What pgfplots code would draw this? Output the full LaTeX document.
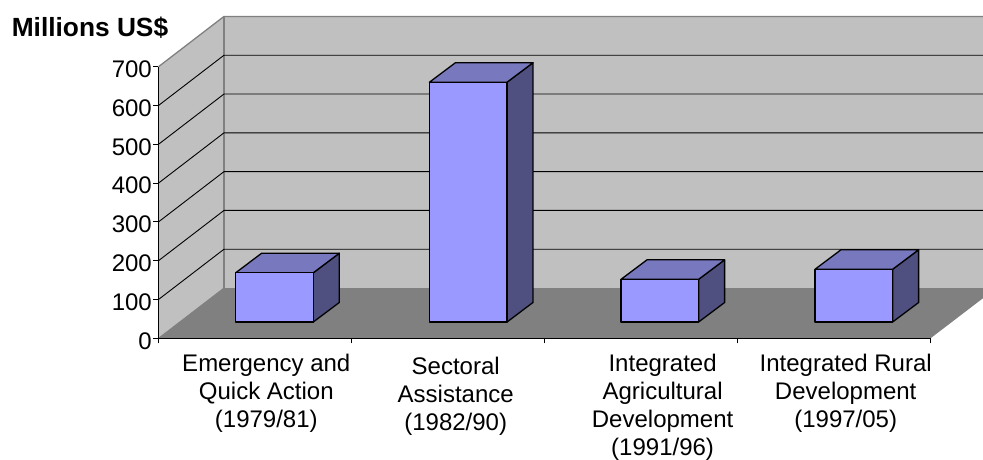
\documentclass[border=0pt]{standalone}
\usepackage{pgfplots}
\pgfplotsset{compat=1.18}
\usepackage{fontspec}
\setmainfont{Liberation Sans}
\definecolor{wall}{HTML}{C0C0C0}
\definecolor{floorc}{HTML}{808080}
\definecolor{barfront}{HTML}{9999FF}
\definecolor{bartop}{HTML}{7878BF}
\definecolor{barside}{HTML}{4F4F80}
\begin{document}
\begin{tikzpicture}[x=1pt,y=1pt]
\path[use as bounding box] (0,0) rectangle (983,459);
\begin{axis}[
  at={(158.5pt,120.7pt)}, anchor=south west,
  scale only axis, width=772pt, height=271.6pt,
  xmin=0, xmax=4, ymin=0, ymax=700,
  clip=false, axis on top=true,
  axis x line=bottom, axis y line=left,
  axis line style={-, black, line width=0.9pt},
  unbounded coords=jump,
  ytick={0,100,...,700},
  xtick={0.5585,1.5399,2.612,3.5606},
  xticklabels={
    {Emergency and\\Quick Action\\(1979/81)},
    {\rule{0pt}{20.5pt}Sectoral\\Assistance\\(1982/90)},
    {Integrated\\Agricultural\\Development\\(1991/96)},
    {Integrated Rural\\Development\\(1997/05)}},
  minor xtick={0,1,2,3,4},
  major x tick style={draw=none},
  minor x tick style={black, line width=0.9pt},
  y tick style={black, line width=0.9pt},
  tick align=outside,
  major tick length=5pt, minor tick length=5pt,
  /pgf/number format/assume math mode=true,
  tick label style={font=\fontsize{24}{28}\selectfont},
  x tick label style={align=center, anchor=north, yshift=-7pt},
  y tick label style={inner sep=1pt, xshift=-0.5pt, yshift=-2.5pt},
  ylabel={\textbf{Millions US\$}},
  every axis y label/.style={at={(axis cs:-0.355,800)}, anchor=center, font=\fontsize{26.3}{30}\selectfont},
]
% walls and floor
\addplot[draw=none, fill=wall] coordinates {(0.3394,129.6) (4.272,129.6) (4.272,829.6) (0.3394,829.6)} -- cycle;
\addplot[draw=none, fill=wall] coordinates {(0,0) (0.3394,129.6) (0.3394,829.6) (0,700)} -- cycle;
\addplot[draw=none, fill=floorc] coordinates {(0,0) (4,0) (4.272,103.3) (4.272,129.6) (0.3394,129.6)} -- cycle;
% wall edges
\addplot[floorc, line width=1.3pt] coordinates {(0,700) (0.3394,829.6) (4.272,829.6)};
\addplot[floorc, line width=1.3pt] coordinates {(0.3394,829.6) (0.3394,129.6)};
\addplot[floorc, line width=0.9pt] coordinates {(0,0) (0.3394,129.6)};
% grid lines
\addplot[black, line width=0.9pt] coordinates {
 (0,100) (0.3394,229.6) (4.272,229.6) (4.272,nan)
 (0,200) (0.3394,329.6) (4.272,329.6) (4.272,nan)
 (0,300) (0.3394,429.6) (4.272,429.6) (4.272,nan)
 (0,400) (0.3394,529.6) (4.272,529.6) (4.272,nan)
 (0,500) (0.3394,629.6) (4.272,629.6) (4.272,nan)
 (0,600) (0.3394,729.6) (4.272,729.6)};
% bars
\pgfplotsset{
  barf/.style={draw=black, line width=1.3pt, line join=round, fill=barfront},
  bart/.style={draw=black, line width=1.3pt, line join=round, fill=bartop},
  bars/.style={draw=black, line width=1.3pt, line join=round, fill=barside}}
\addplot[bars] coordinates {(0.8021,42) (0.9368,92.3) (0.9368,219.3) (0.8021,169)} -- cycle;
\addplot[bart] coordinates {(0.4,169) (0.8021,169) (0.9368,219.3) (0.5347,219.3)} -- cycle;
\addplot[barf] coordinates {(0.4,42) (0.8021,42) (0.8021,169) (0.4,169)} -- cycle;
\addplot[bars] coordinates {(1.8057,42) (1.9404,92.3) (1.9404,710.3) (1.8057,660)} -- cycle;
\addplot[bart] coordinates {(1.4036,660) (1.8057,660) (1.9404,710.3) (1.5383,710.3)} -- cycle;
\addplot[barf] coordinates {(1.4036,42) (1.8057,42) (1.8057,660) (1.4036,660)} -- cycle;
\addplot[bars] coordinates {(2.7985,42) (2.9332,92.3) (2.9332,202.3) (2.7985,152)} -- cycle;
\addplot[bart] coordinates {(2.3964,152) (2.7985,152) (2.9332,202.3) (2.5311,202.3)} -- cycle;
\addplot[barf] coordinates {(2.3964,42) (2.7985,42) (2.7985,152) (2.3964,152)} -- cycle;
\addplot[bars] coordinates {(3.8038,42) (3.9385,92.3) (3.9385,228.3) (3.8038,178)} -- cycle;
\addplot[bart] coordinates {(3.4017,178) (3.8038,178) (3.9385,228.3) (3.5364,228.3)} -- cycle;
\addplot[barf] coordinates {(3.4017,42) (3.8038,42) (3.8038,178) (3.4017,178)} -- cycle;
\end{axis}
\end{tikzpicture}
\end{document}
